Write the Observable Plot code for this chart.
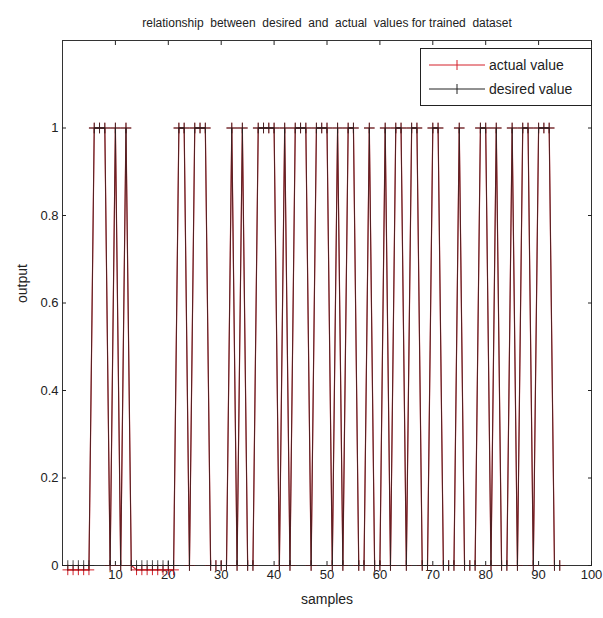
<!DOCTYPE html>
<html>
<head>
<meta charset="utf-8">
<script src="https://cdn.jsdelivr.net/npm/d3@7"></script>
<script src="https://cdn.jsdelivr.net/npm/@observablehq/plot@0.6"></script>
<style>
  body { margin: 0; background: #fff; }
  #wrap { position: relative; width: 603px; height: 618px; font-family: "Liberation Sans Narrow", "Liberation Sans", Arial, sans-serif; }
  #legend { position: absolute; left: 420px; top: 48px; width: 172px; height: 58px; border: 1px solid #222; background: #fff; box-sizing: border-box; }
</style>
</head>
<body>
<div id="wrap"></div>
<script>
const title = "relationship  between  desired  and  actual  values for trained  dataset";
const xLabel = "samples";
const yLabel = "output";
const seriesNames = ["actual value", "desired value"];
const xTicks = [10, 20, 30, 40, 50, 60, 70, 80, 90, 100];
const yTicks = [0, 0.2, 0.4, 0.6, 0.8, 1];

// sample indices 1..94 with desired output 1
const onesAt = [6,7,8,10,12, 22,23,25,26,27, 32,34, 37,38,39,40, 42, 44,45,46, 48,49,50, 52, 54,55, 58, 61, 63,64, 66,67, 70,71, 75, 79,80, 82, 85, 87,88, 90,91,92];
const nSamples = 94;
const samples = d3.range(1, nSamples + 1);
const desired = samples.map(i => onesAt.includes(i) ? 1 : 0);
// actual network output: nearly identical, small deviations
const actualOffsets = {1:-0.01,2:-0.01,3:-0.01,4:-0.01,5:-0.01,14:-0.01,15:-0.01,16:-0.01,17:-0.01,18:-0.01,19:-0.01,20:-0.01,21:-0.01};
const actual = samples.map((s, k) => desired[k] + (actualOffsets[s] || 0));

const actualData = samples.map((s, k) => ({x: s, y: actual[k]}));
const desiredData = samples.map((s, k) => ({x: s, y: desired[k]}));

const W = 603, H = 618;
const chart = Plot.plot({
  width: W, height: H,
  marginLeft: 62, marginRight: 12, marginTop: 40, marginBottom: 53,
  style: { fontFamily: "'Liberation Sans Narrow', 'Liberation Sans', Arial, sans-serif", fontSize: "12px", color: "#222", background: "#fff" },
  x: { domain: [0, 100], label: null },
  y: { domain: [0, 1.2], label: null },
  marks: [
    Plot.frame({ stroke: "#333" }),
    Plot.axisX({ ticks: xTicks, tickSize: -4, tickPadding: 8, tickFormat: d => String(d), fontSize: 13, label: null }),
    Plot.axisX({ anchor: "top", ticks: xTicks, tickSize: -4, tickFormat: () => "", label: null }),
    Plot.axisY({ ticks: yTicks, tickSize: -4, tickPadding: 8, tickFormat: d => String(d), fontSize: 13, label: null }),
    Plot.axisY({ anchor: "right", ticks: yTicks, tickSize: -4, tickFormat: () => "", label: null }),
    Plot.line(actualData, { x: "x", y: "y", stroke: "#d4202a", strokeWidth: 1.2 }),
    Plot.dot(actualData, { x: "x", y: "y", symbol: "plus", r: 3.5, stroke: "#d4202a", strokeWidth: 1 }),
    Plot.line(desiredData, { x: "x", y: "y", stroke: "#222", strokeWidth: 1, strokeOpacity: 0.75 }),
    Plot.dot(desiredData, { x: "x", y: "y", symbol: "plus", r: 3.5, stroke: "#222", strokeWidth: 1, strokeOpacity: 0.8 }),
    Plot.text([title], { frameAnchor: "top", dy: -22, fontSize: 12, fill: "#222" }),
    Plot.text([xLabel], { frameAnchor: "bottom", dy: 38, fontSize: 14, fill: "#222" }),
    Plot.text([yLabel], { frameAnchor: "left", dx: -40, rotate: -90, fontSize: 14, fill: "#222" })
  ]
});
const wrap = document.getElementById("wrap");
wrap.appendChild(chart);

const legend = document.createElement("div");
legend.id = "legend";
const colors = ["#d4202a", "#222"];
legend.innerHTML = seriesNames.map((name, i) => `
  <div style="display:flex;align-items:center;height:24px;margin-top:${i === 0 ? 4 : 0}px">
    <svg width="60" height="14" style="margin-left:6px">
      <line x1="2" x2="58" y1="7" y2="7" stroke="${colors[i]}" stroke-width="1"/>
      <line x1="30" x2="30" y1="2" y2="12" stroke="${colors[i]}" stroke-width="1"/>
    </svg>
    <span style="font-size:14px;color:#222;margin-left:2px">${name}</span>
  </div>`).join("");
wrap.appendChild(legend);
</script>
</body>
</html>
